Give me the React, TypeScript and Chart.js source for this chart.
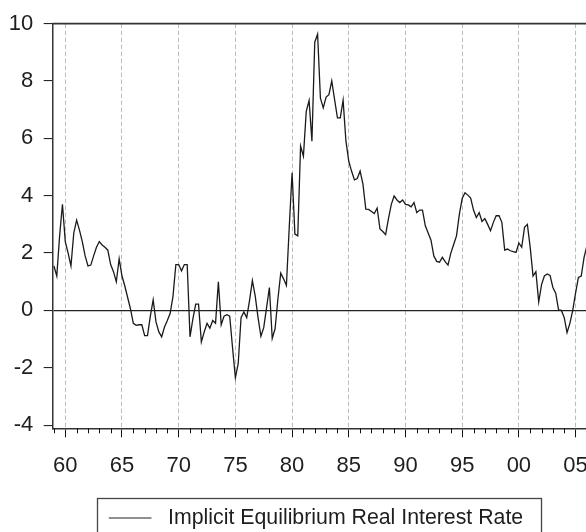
import { useEffect, useRef } from 'react';
import { Chart, registerables } from 'chart.js';

Chart.register(...registerables);

// Quarterly observations starting 1959Q1
const startYear = 1959;
const rateValues = [
  1.55, 1.2, 2.6, 3.7, // 1959
  2.4, 2.0, 1.55, 2.7, // 1960
  3.15, 2.8, 2.4, 1.9, // 1961
  1.55, 1.58, 1.9, 2.2, // 1962
  2.4, 2.28, 2.2, 2.1, // 1963
  1.6, 1.35, 1.0, 1.8, // 1964
  1.2, 0.85, 0.45, 0.05, // 1965
  -0.45, -0.52, -0.5, -0.5, // 1966
  -0.88, -0.88, -0.2, 0.37, // 1967
  -0.4, -0.75, -0.92, -0.58, // 1968
  -0.35, -0.1, 0.5, 1.6, // 1969
  1.6, 1.38, 1.6, 1.6, // 1970
  -0.92, -0.3, 0.22, 0.22, // 1971
  -1.1, -0.75, -0.45, -0.62, // 1972
  -0.35, -0.45, 1.0, -0.5, // 1973
  -0.2, -0.15, -0.2, -1.3, // 1974
  -2.35, -1.85, -0.25, -0.05, // 1975
  -0.25, 0.35, 1.04, 0.5, // 1976
  -0.25, -0.9, -0.6, 0.1, // 1977
  0.8, -0.98, -0.64, 0.4, // 1978
  1.3, 1.1, 0.87, 2.9, // 1979
  4.8, 2.66, 2.6, 5.73, // 1980
  5.38, 6.94, 7.32, 5.9, // 1981
  9.35, 9.63, 7.4, 7.06, // 1982
  7.44, 7.52, 8.0, 7.35, // 1983
  6.71, 6.71, 7.33, 5.9, // 1984
  5.2, 4.85, 4.55, 4.6, // 1985
  4.86, 4.4, 3.53, 3.52, // 1986
  3.45, 3.38, 3.57, 2.84, // 1987
  2.75, 2.64, 3.2, 3.7, // 1988
  3.99, 3.85, 3.76, 3.85, // 1989
  3.7, 3.68, 3.61, 3.76, // 1990
  3.41, 3.5, 3.5, 2.95, // 1991
  2.7, 2.45, 1.9, 1.71, // 1992
  1.68, 1.85, 1.7, 1.58, // 1993
  2.0, 2.3, 2.6, 3.35, // 1994
  3.9, 4.1, 4.02, 3.92, // 1995
  3.5, 3.24, 3.41, 3.1, // 1996
  3.2, 3.0, 2.78, 3.07, // 1997
  3.3, 3.3, 3.07, 2.1, // 1998
  2.14, 2.08, 2.05, 2.02, // 1999
  2.35, 2.2, 2.9, 3.0, // 2000
  2.2, 1.2, 1.35, 0.3, // 2001
  0.9, 1.2, 1.27, 1.22, // 2002
  0.8, 0.6, 0.02, 0.0, // 2003
  -0.25, -0.77, -0.45, 0.0, // 2004
  0.6, 1.15, 1.2, 1.85, // 2005
  2.25, // 2006
];

const seriesLabel = 'Implicit Equilibrium Real Interest Rate';
const majorTickYears = [1960, 1965, 1970, 1975, 1980, 1985, 1990, 1995, 2000, 2005];
const majorTickLabels = ['60', '65', '70', '75', '80', '85', '90', '95', '00', '05'];
const minorTickYears = [
  1959, 1960, 1961, 1962, 1963, 1964, 1965, 1966, 1967, 1968, 1969, 1970, 1971, 1972,
  1973, 1974, 1975, 1976, 1977, 1978, 1979, 1980, 1981, 1982, 1983, 1984, 1985, 1986,
  1987, 1988, 1989, 1990, 1991, 1992, 1993, 1994, 1995, 1996, 1997, 1998, 1999, 2000,
  2001, 2002, 2003, 2004, 2005,
];
const yTickValues = [-4, -2, 0, 2, 4, 6, 8, 10];

const X_MIN = 1958.89;
const X_MAX = 2005.92;
const Y_MIN = -4.11;
const Y_MAX = 10;

const FONT = '"Liberation Sans", Arial, Helvetica, sans-serif';
const TEXT_COLOR = '#1e1e1e';
const AXIS_COLOR = '#333';

const framePlugin = {
  id: 'framePlugin',
  afterDraw(chart: any) {
    const { ctx, chartArea } = chart;
    const xs = chart.scales.x;
    ctx.save();
    // top frame line
    ctx.strokeStyle = AXIS_COLOR;
    ctx.lineWidth = 1.8;
    ctx.beginPath();
    ctx.moveTo(chartArea.left, chartArea.top);
    ctx.lineTo(chartArea.right + 2, chartArea.top);
    ctx.stroke();
    // minor ticks
    ctx.lineWidth = 1;
    ctx.strokeStyle = '#111';
    for (const t of xs.ticks) {
      if (majorTickYears.indexOf(t.value) >= 0) continue;
      const px = Math.round(xs.getPixelForValue(t.value)) + 0.5;
      ctx.beginPath();
      ctx.moveTo(px, chartArea.bottom);
      ctx.lineTo(px, chartArea.bottom + 5);
      ctx.stroke();
    }
    // legend box
    ctx.font = `21.3px ${FONT}`;
    const tw = ctx.measureText(seriesLabel).width;
    const padL = 11.3, lineLen = 42.7, gap = 16.6, padR = 18.3;
    const bw = padL + lineLen + gap + tw + padR;
    const cx = (chartArea.left + chartArea.right) / 2;
    const bx = Math.round(cx - bw / 2) + 0.5;
    const by = Math.round(chartArea.bottom + 69.4) + 0.5;
    ctx.strokeStyle = '#444';
    ctx.lineWidth = 1.3;
    ctx.strokeRect(bx, by, Math.round(bw), 60);
    const ly = by + 19.5;
    ctx.strokeStyle = '#222';
    ctx.lineWidth = 1.2;
    ctx.beginPath();
    ctx.moveTo(bx + padL, ly);
    ctx.lineTo(bx + padL + lineLen, ly);
    ctx.stroke();
    ctx.fillStyle = TEXT_COLOR;
    ctx.textBaseline = 'middle';
    ctx.textAlign = 'left';
    ctx.fillText(seriesLabel, bx + padL + lineLen + gap, ly + 0.5);
    ctx.restore();
  },
};

export default function App() {
  const canvasRef = useRef<HTMLCanvasElement | null>(null);

  useEffect(() => {
    document.body.style.margin = '0';
    document.body.style.overflow = 'hidden';
    const canvas = canvasRef.current;
    if (!canvas) return;
    const points = rateValues.map((v, i) => ({ x: startYear + i / 4, y: v }));
    const chart = new Chart(canvas, {
      type: 'line',
      data: {
        datasets: [
          {
            label: seriesLabel,
            data: points,
            borderColor: '#1a1a1a',
            borderWidth: 1.3,
            pointRadius: 0,
            tension: 0,
            fill: false,
          },
        ],
      },
      options: {
        animation: false,
        responsive: false,
        devicePixelRatio: 1,
        layout: { padding: { left: 8, top: 22, right: 0, bottom: 0 } },
        plugins: { legend: { display: false }, tooltip: { enabled: false } },
        scales: {
          x: {
            type: 'linear',
            min: X_MIN,
            max: X_MAX,
            afterBuildTicks: (s: any) => {
              s.ticks = minorTickYears.map((v) => ({ value: v }));
            },
            afterFit: (s: any) => {
              s.height = 103.7;
              s.paddingRight = 0;
              s.paddingLeft = 0;
            },
            ticks: {
              autoSkip: false,
              maxRotation: 0,
              padding: 15,
              color: TEXT_COLOR,
              font: { size: 22, family: FONT },
              callback: (v: any) => {
                const i = majorTickYears.indexOf(Number(v));
                return i >= 0 ? majorTickLabels[i] : '';
              },
            },
            grid: {
              color: (c: any) =>
                c.tick && majorTickYears.indexOf(c.tick.value) >= 0 ? '#bdbdbd' : 'rgba(0,0,0,0)',
              lineWidth: 1,
              tickLength: 9,
              tickColor: (c: any) =>
                c.tick && majorTickYears.indexOf(c.tick.value) >= 0 ? '#111' : 'rgba(0,0,0,0)',
              tickWidth: 1,
            },
            border: { display: true, color: AXIS_COLOR, width: 1.5, dash: [4.5, 2.5] },
          },
          y: {
            type: 'linear',
            min: Y_MIN,
            max: Y_MAX,
            afterBuildTicks: (s: any) => {
              s.ticks = yTickValues.map((v) => ({ value: v }));
            },
            afterFit: (s: any) => {
              s.width = 44.7;
            },
            ticks: {
              padding: 10.4,
              color: TEXT_COLOR,
              font: { size: 22, family: FONT },
              callback: (v: any) => String(v),
            },
            grid: {
              color: (c: any) => (c.tick && c.tick.value === 0 ? '#222' : 'rgba(0,0,0,0)'),
              lineWidth: 1.2,
              tickLength: 9,
              tickColor: '#111',
              tickWidth: 1,
            },
            border: { display: true, color: AXIS_COLOR, width: 1.5 },
          },
        },
      },
      plugins: [framePlugin],
    });
    return () => chart.destroy();
  }, []);

  return <canvas ref={canvasRef} width={586} height={532} style={{ display: 'block' }} />;
}
